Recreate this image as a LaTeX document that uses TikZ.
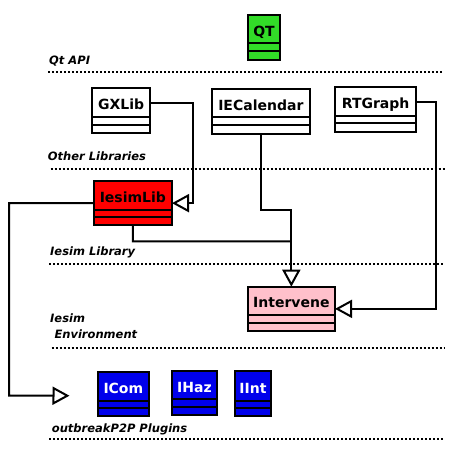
\documentclass[tikz,border=0pt]{standalone}
\usepackage{fontspec}
\setmainfont{DejaVu Sans}
\usetikzlibrary{arrows.meta,calc}
\definecolor{qtgreen}{RGB}{50,220,40}
\definecolor{iesred}{RGB}{255,0,0}
\definecolor{intpink}{RGB}{255,192,203}
\definecolor{plugblue}{RGB}{0,0,235}
\tikzset{
  boxline/.style={draw=black,line width=2pt},
  classbox/.style={boxline,inner sep=0pt,outer sep=0pt,fill=white},
  classname/.style={inner sep=0pt,outer sep=0pt,text height=14pt,text depth=0pt,
    font=\bfseries\fontsize{14}{16}\selectfont},
  qtstyle/.style={fill=qtgreen},
  whitestyle/.style={fill=white},
  redstyle/.style={fill=iesred},
  pinkstyle/.style={fill=intpink},
  bluestyle/.style={fill=plugblue,text=white},
  layerlabel/.style={anchor=base west,inner sep=0pt,align=left,
    font=\bfseries\itshape\fontsize{11.5}{16}\selectfont},
  layerline/.style={line width=2pt,dash pattern=on 2pt off 2pt},
  conn/.style={draw=black,line width=2pt},
  gen/.style={conn,-{Triangle[open,length=17pt,width=18pt,fill=white]}}
}
\newcommand\umlbox[9]{%
  \node[classbox,#8,anchor=north west,minimum width={(#4-#2)*1pt},minimum height={(#5-#3)*1pt}] (#1) at (#2,#3) {};
  \node[classname,#8,draw=none,fill=none,anchor=north west,minimum width={(#4-#2)*1pt},minimum height={(#6-#3)*1pt}] (#1-n) at (#2,#3) {#9};
  \draw[boxline] (#2,#6) -- (#4,#6);
  \draw[boxline] (#2,#7) -- (#4,#7);
}
\begin{document}
\begin{tikzpicture}[x=1pt,y=-1pt]
\useasboundingbox (0,0) rectangle (474,459);
% layer labels and separators
\node[layerlabel] (lqt) at (49,64.5) {Qt API};
\draw[layerline] (48,72.3) -- (442,72.3);
\node[layerlabel] (lother) at (47.7,160) {Other Libraries};
\draw[layerline] (50.7,169.3) -- (445,169.3);
\node[layerlabel] (llib) at (50,255.3) {Iesim Library};
\draw[layerline] (49,264.3) -- (443,264.3);
\node[layerlabel] (lenv1) at (50,322.3) {Iesim};
\node[layerlabel] (lenv2) at (54.3,338.3) {Environment};
\draw[layerline] (51.7,348.3) -- (445,348.3);
\node[layerlabel] (lplug) at (51.7,432.3) {outbreakP2P Plugins};
\draw[layerline] (49,439) -- (443,439);
% classes
\umlbox{qt}{248}{15}{280}{60}{43.3}{50.7}{qtstyle}{QT}
\umlbox{gx}{92.3}{88.3}{150}{132.7}{117.3}{124.7}{whitestyle}{GXLib}
\umlbox{iec}{211.7}{89.3}{310}{134}{117.3}{125.3}{whitestyle}{IECalendar}
\umlbox{rt}{335.3}{87.3}{416}{131.7}{115.7}{123.3}{whitestyle}{RTGraph}
\umlbox{ies}{93.7}{181}{172}{225.3}{210}{217.3}{redstyle}{IesimLib}
\umlbox{int}{247.7}{286.7}{335}{331}{315}{323.3}{pinkstyle}{Intervene}
\umlbox{icom}{97.7}{371.7}{149}{416}{400.7}{407.7}{bluestyle}{ICom}
\umlbox{ihaz}{171.7}{370.7}{217.3}{415}{399.3}{407}{bluestyle}{IHaz}
\umlbox{iint}{234.7}{371.3}{271.3}{416}{400.7}{407.7}{bluestyle}{IInt}
% connectors
\coordinate (plug) at (69.5,395.7);
\draw[gen] (gx-n.east) -- ++(43,0) |- (ies.east);
\draw[conn] (ies.south) -- ++(0,16) -- (int.north |- 0,241.3);
\draw[gen] (iec.south) -- ++(0,76) -| (int.north);
\draw[gen] (rt-n.east) -- ++(20,0) |- (int.east);
\draw[gen] (ies.west) -| ++(-84.7,192.5) -- (plug);
\end{tikzpicture}
\end{document}
